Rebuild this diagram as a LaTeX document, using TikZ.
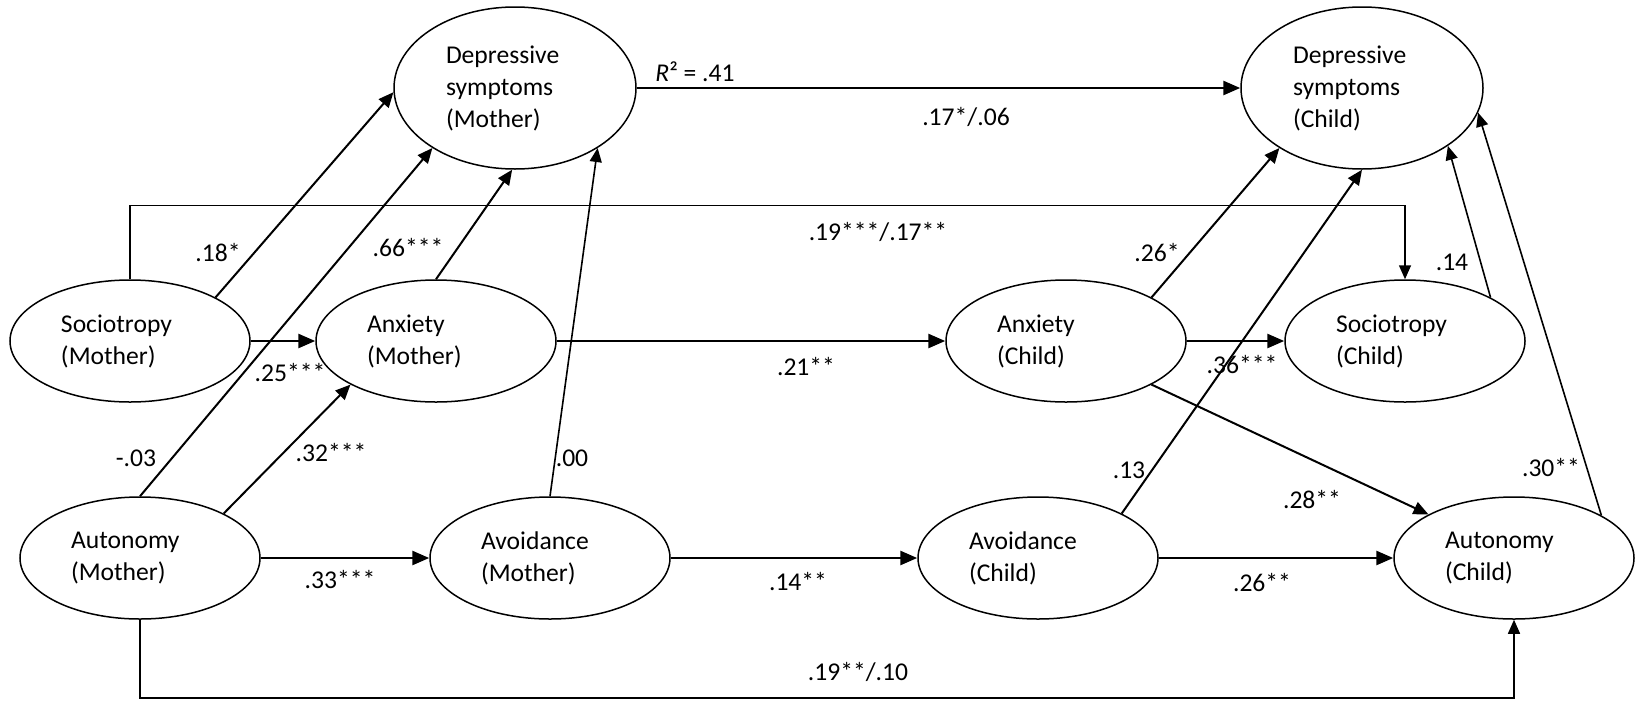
\documentclass[tikz,border=0pt]{standalone}
\usepackage{fontspec}
\setmainfont{Carlito}
\usetikzlibrary{arrows.meta,shapes.geometric}
\begin{document}
\begin{tikzpicture}[x=0.5pt,y=-0.5pt,
  font=\fontsize{12.8pt}{16pt}\selectfont,
  latent/.style={draw, ellipse, line width=0.75pt, minimum width=120pt,
    minimum height=61pt, inner sep=0pt, text width=69pt, align=left},
  latenttop/.style={latent, minimum width=121pt, minimum height=81pt},
  heavy/.style={-{Triangle[length=8.5pt,width=7pt]}, line width=1.35pt},
  diag/.style={-{Triangle[length=7.5pt,width=6.5pt]}, line width=1pt},
  light/.style={-{Triangle[length=7pt,width=6pt]}, line width=0.8pt},
  elbow/.style={-{Triangle[length=7pt,width=6pt]}, line width=0.75pt},
  coef/.style={inner sep=0pt}]
\useasboundingbox (0,0) rectangle (1644,702);

% latent variables
\node[latenttop] (DepM) at (515,88)  {Depressive\\symptoms\\(Mother)};
\node[latenttop] (DepC) at (1362,88) {Depressive\\symptoms\\(Child)};
\node[latent] (SocM) at (130,341)  {Sociotropy\\(Mother)};
\node[latent] (AnxM) at (436,341)  {Anxiety\\(Mother)};
\node[latent] (AnxC) at (1066,341) {Anxiety\\(Child)};
\node[latent] (SocC) at (1405,341) {Sociotropy\\(Child)};
\node[latent] (AutM) at (140,558)  {Autonomy\\(Mother)};
\node[latent] (AvM)  at (550,558)  {Avoidance\\(Mother)};
\node[latent] (AvC)  at (1038,558) {Avoidance\\(Child)};
\node[latent] (AutC) at (1514,558) {Autonomy\\(Child)};

% horizontal paths
\draw[heavy] (DepM.east) -- (DepC.west);
\draw[heavy] (SocM.east) -- (AnxM.west);
\draw[heavy] (AnxM.east) -- (AnxC.west);
\draw[heavy] (AnxC.east) -- (SocC.west);
\draw[heavy] (AutM.east) -- (AvM.west);
\draw[heavy] (AvM.east) -- (AvC.west);
\draw[heavy] (AvC.east) -- (AutC.west);

% diagonal paths
\draw[diag]  (SocM.27)    -- (DepM.182);
\draw[diag]  (AutM.north) -- (DepM.216);
\draw[diag]  (AnxM.north) -- (DepM.268);
\draw[light] (AvM.north)  -- (DepM.324);
\draw[diag]  (AutM.28)    -- (AnxM.207);
\draw[diag]  (AnxC.27)    -- (DepC.216);
\draw[diag]  (AvC.28)     -- (DepC.270);
\draw[light] (SocC.27)    -- (DepC.326);
\draw[light] (AutC.26)    -- (DepC.348);
\draw[diag]  (AnxC.333)   -- (AutC.153);

% stability paths
\draw[elbow] (SocM.north) -- ++(0,-74) -| (SocC.north);
\draw[elbow] (AutM.south) -- ++(0,78) -| (AutC.south);

% coefficients
\node[coef] (cR)   at (695,72)   {\textit{R}² = .41};
\node[coef] (cDep) at (966,117)  {.17*/.06};
\node[coef] (cSoc) at (878,232)  {.19***/.17**};
\node[coef] (c18)  at (218,253)  {.18*};
\node[coef] (c66)  at (408,248)  {.66***};
\node[coef] (c26a) at (1157,253) {.26*};
\node[coef] (c14a) at (1452,262) {.14};
\node[coef] (c25)  at (290,373)  {.25***};
\node[coef] (c21)  at (806,367)  {.21**};
\node[coef] (c36)  at (1242,365) {.36***};
\node[coef] (c03)  at (136,458)  {-.03};
\node[coef] (c32)  at (331,453)  {.32***};
\node[coef] (c00)  at (572,458)  {.00};
\node[coef] (c13)  at (1129,470) {.13};
\node[coef] (c28)  at (1312,500) {.28**};
\node[coef] (c30)  at (1551,468) {.30**};
\node[coef] (c33)  at (340,580)  {.33***};
\node[coef] (c14b) at (798,582)  {.14**};
\node[coef] (c26b) at (1262,583) {.26**};
\node[coef] (cAut) at (858,672)  {.19**/.10};
\end{tikzpicture}
\end{document}
